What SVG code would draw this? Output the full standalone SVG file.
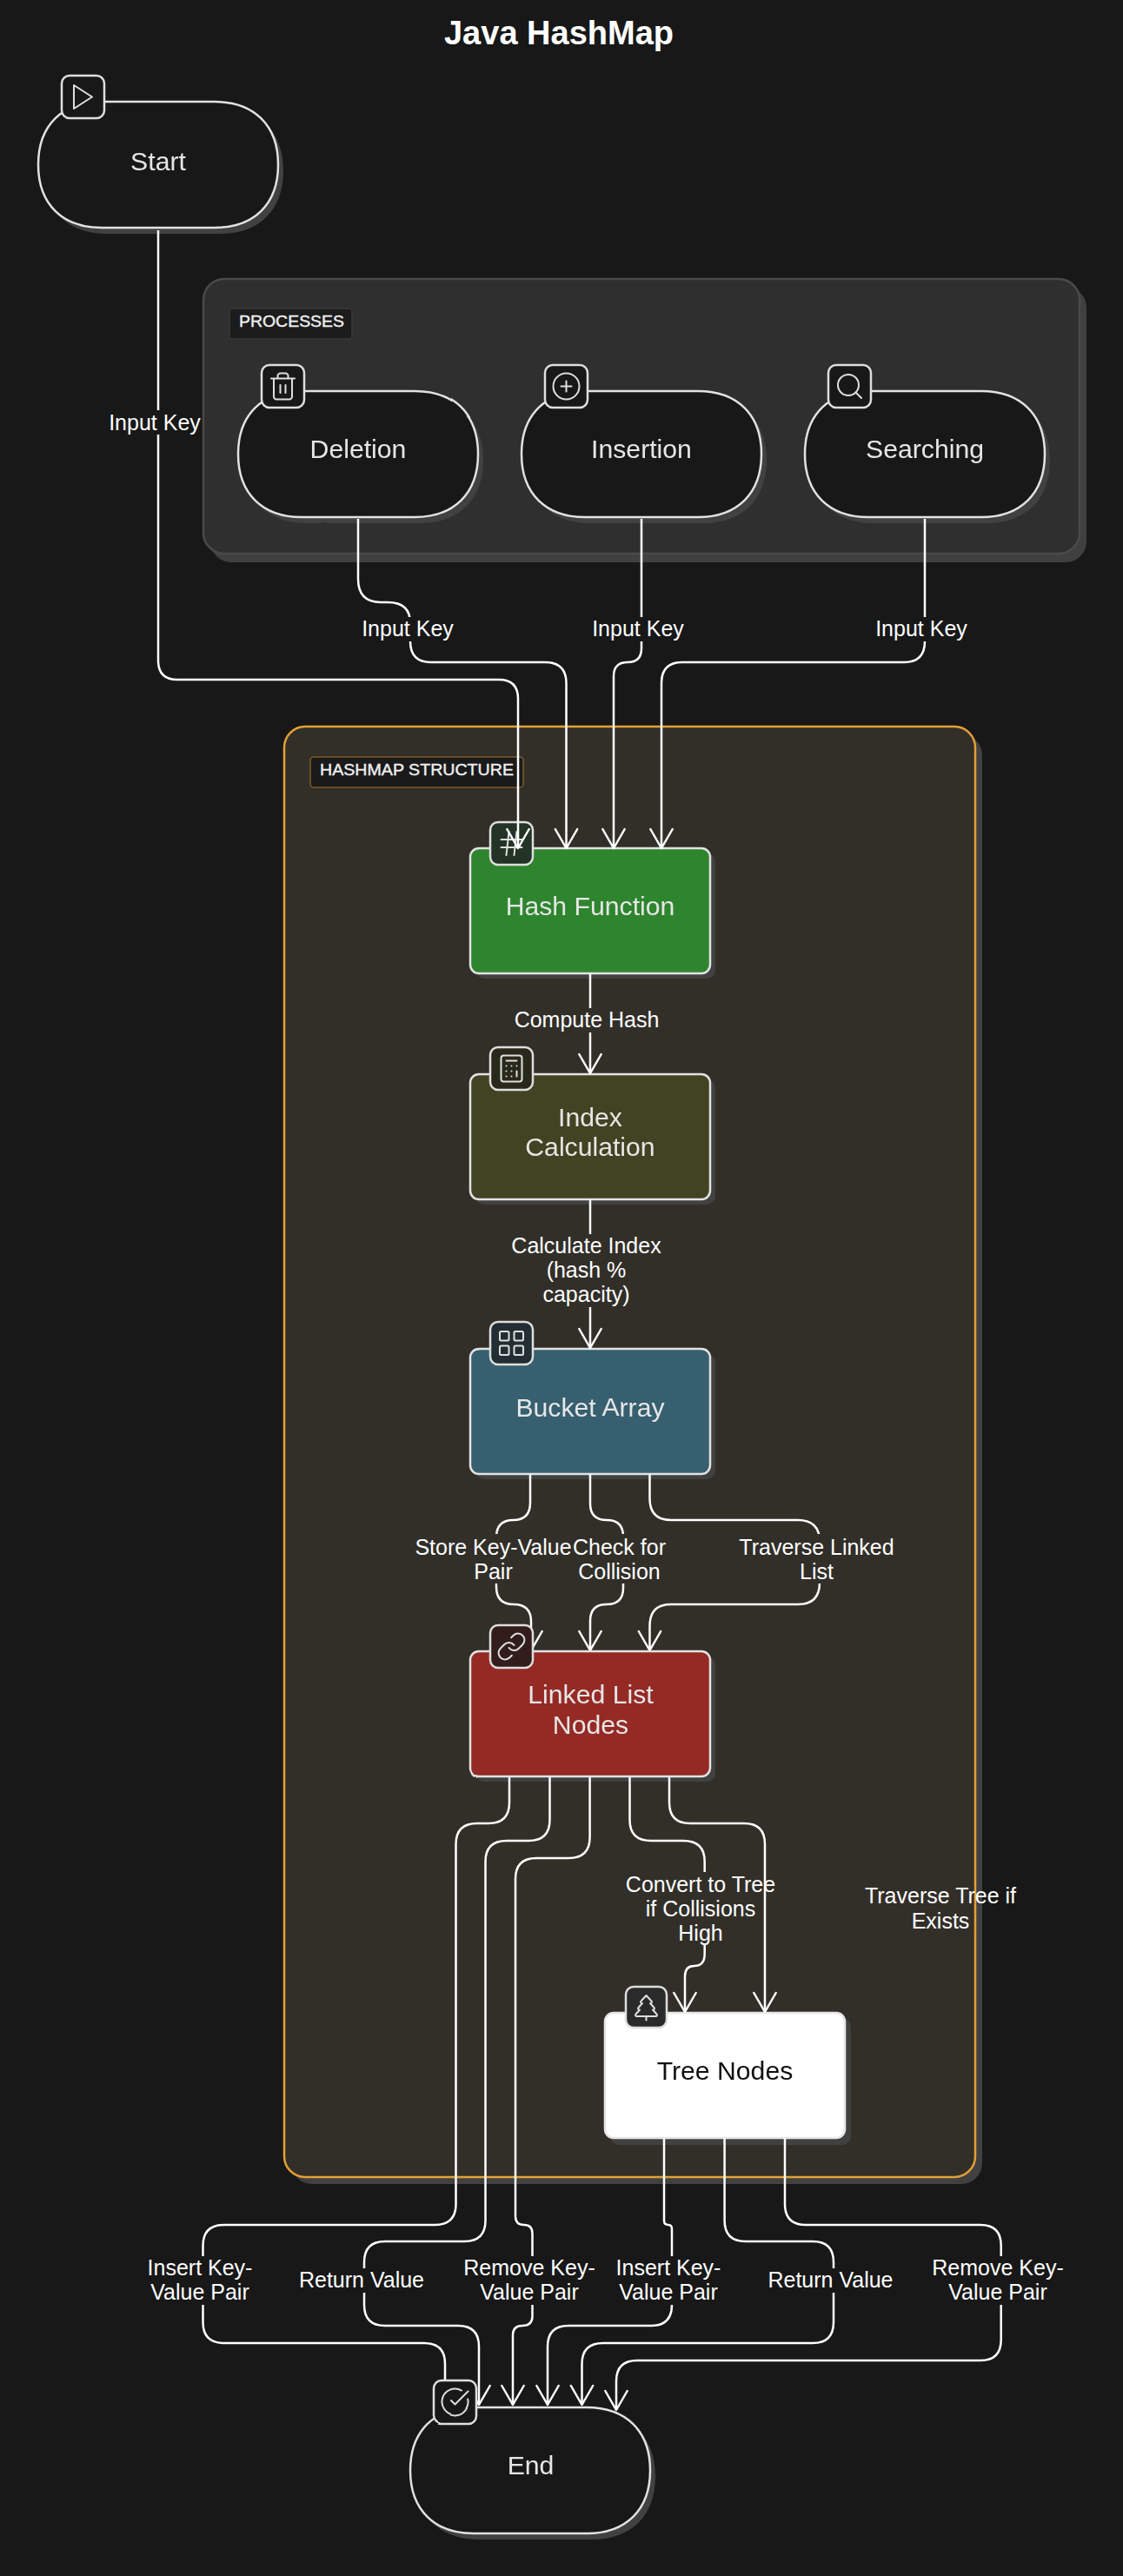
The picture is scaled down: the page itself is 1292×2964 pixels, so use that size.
<svg xmlns="http://www.w3.org/2000/svg" width="1292" height="2964" viewBox="0 0 1292 2964">
<style>
text{font-family:"Liberation Sans",Arial,sans-serif;text-anchor:middle}
.title{font-size:38px;font-weight:700;fill:#fff}
.nt{font-size:30.2px;fill:#e6e6e6}
.el{font-size:25px;fill:#fff}
.ct{font-size:19px;fill:#f0f0f0;stroke:#f0f0f0;stroke-width:.4}
.sh{fill:#414141}
.pill{fill:#181818;stroke:#e2e2e2;stroke-width:2.5}
.box{stroke:#e2e2e2;stroke-width:2.5}
.ic{stroke:#dedede;stroke-width:2.5}
.g{fill:none;stroke:#dedede;stroke-width:1.35;stroke-linecap:round;stroke-linejoin:round}
.e{fill:none;stroke:#fff;stroke-width:2.5;marker-end:url(#arr)}
.bo{fill:#181818}
.bi{fill:#322f29}
.r{filter:url(#rough)}
</style>
<defs>
<marker id="arr" markerUnits="userSpaceOnUse" viewBox="-25 -15 28 30" refX="0" refY="0" markerWidth="28" markerHeight="30" orient="auto" overflow="visible">
<polyline points="-22,-12.7 0,0 -22,12.7" fill="none" stroke="#fff" stroke-width="2.5" stroke-linejoin="round" stroke-linecap="round"/>
</marker>
<filter id="rough" x="-3%" y="-3%" width="106%" height="106%" color-interpolation-filters="sRGB">
<feTurbulence type="fractalNoise" baseFrequency="0.012" numOctaves="1" seed="4" result="t"/>
<feDisplacementMap in="SourceGraphic" in2="t" scale="2" xChannelSelector="R" yChannelSelector="G"/>
</filter>
<path id="p" d="M73 0H203C248 0 276 27 276 72.5S248 145 203 145H73C28 145 0 118 0 72.5S28 0 73 0Z"/>
</defs>
<rect width="1292" height="2964" fill="#181818"/>
<text class="title" x="643" y="51">Java HashMap</text>

<g id="processes">
<rect x="242" y="330" width="1008" height="317" rx="24" fill="#404040"/>
<rect x="234" y="321" width="1008" height="316" rx="24" fill="#2f2f2f" stroke="#4a4a4a" stroke-width="2.5"/>
<rect x="264" y="355" width="141" height="35" rx="4" fill="#1c1c1c" stroke="#383838" stroke-width="1.5"/>
<text class="ct" x="335.5" y="376" textLength="121" lengthAdjust="spacingAndGlyphs">PROCESSES</text>
</g>
<g id="hashmap-structure">
<rect x="335" y="845" width="795" height="1668" rx="24" fill="#414141"/>
<rect x="327" y="836" width="795" height="1669" rx="24" fill="#322f29" stroke="#e5a035" stroke-width="2.5"/>
<rect x="357" y="871" width="245" height="35" rx="4" fill="#1a1a1a" stroke="#7c5c28" stroke-width="1.5"/>
<text class="ct" x="479.5" y="892" textLength="223" lengthAdjust="spacingAndGlyphs">HASHMAP STRUCTURE</text>
</g>

<g id="start" class="r">
<use href="#p" class="sh" x="50" y="124"/>
<use href="#p" class="pill" x="44" y="117"/>
<text class="nt" x="182" y="196">Start</text>
<rect class="ic" x="71" y="87" width="49" height="49" rx="9" fill="#181818"/>
<g transform="translate(77.5 93.5) scale(1.5)"><polygon class="g" points="5,3 19,12 5,21"/></g>
</g>
<g id="deletion" class="r">
<use href="#p" class="sh" x="280" y="457"/>
<use href="#p" class="pill" x="274" y="450"/>
<text class="nt" x="412" y="527">Deletion</text>
<rect class="ic" x="301" y="420" width="49" height="49" rx="9" fill="#181818"/>
<g transform="translate(307.5 426.5) scale(1.5)"><path class="g" d="M3 6h18M19 6v14c0 1-1 2-2 2H7c-1 0-2-1-2-2V6M8 6V4c0-1 1-2 2-2h4c1 0 2 1 2 2v2M10 11v6M14 11v6"/></g>
</g>
<g id="insertion" class="r">
<use href="#p" class="sh" x="606" y="457"/>
<use href="#p" class="pill" x="600" y="450"/>
<text class="nt" x="738" y="527">Insertion</text>
<rect class="ic" x="627" y="420" width="49" height="49" rx="9" fill="#181818"/>
<g transform="translate(633.5 426.5) scale(1.5)"><circle class="g" cx="12" cy="12" r="10"/><path class="g" d="M8 12h8M12 8v8"/></g>
</g>
<g id="searching" class="r">
<use href="#p" class="sh" x="932" y="457"/>
<use href="#p" class="pill" x="926" y="450"/>
<text class="nt" x="1064" y="527">Searching</text>
<rect class="ic" x="953" y="420" width="49" height="49" rx="9" fill="#181818"/>
<g transform="translate(959.5 426.5) scale(1.5)"><circle class="g" cx="11" cy="11" r="8"/><path class="g" d="M21 21l-4.3-4.3"/></g>
</g>
<g id="hash-function" class="r">
<rect class="sh" x="547" y="982" width="276" height="144" rx="10"/>
<rect class="box" x="541" y="976" width="276" height="144" rx="10" fill="#2e852e"/>
<text class="nt" x="679" y="1053">Hash Function</text>
<rect class="ic" x="564" y="946" width="49" height="49" rx="9" fill="#233326"/>
<g transform="translate(570.5 952.5) scale(1.5)"><path class="g" d="M4 9h16M4 15h16M10 3L8 21M16 3l-2 18"/></g>
</g>
<g id="index-calculation" class="r">
<rect class="sh" x="547" y="1242" width="276" height="144" rx="10"/>
<rect class="box" x="541" y="1236" width="276" height="144" rx="10" fill="#424322"/>
<text class="nt" x="679" y="1296">Index</text>
<text class="nt" x="679" y="1330">Calculation</text>
<rect class="ic" x="564" y="1205" width="49" height="49" rx="9" fill="#28291b"/>
<g transform="translate(570.5 1211.5) scale(1.5)"><rect class="g" x="4" y="2" width="16" height="20" rx="2"/><path class="g" d="M8 6h8M16 14v4M16 10h.01M12 10h.01M8 10h.01M12 14h.01M8 14h.01M12 18h.01M8 18h.01"/></g>
</g>
<g id="bucket-array" class="r">
<rect class="sh" x="547" y="1558" width="276" height="144" rx="10"/>
<rect class="box" x="541" y="1552" width="276" height="144" rx="10" fill="#365f6f"/>
<text class="nt" x="679" y="1630">Bucket Array</text>
<rect class="ic" x="564" y="1521" width="49" height="49" rx="9" fill="#222e33"/>
<g transform="translate(570.5 1527.5) scale(1.5)"><rect class="g" x="3" y="3" width="7" height="7" rx="1"/><rect class="g" x="14" y="3" width="7" height="7" rx="1"/><rect class="g" x="14" y="14" width="7" height="7" rx="1"/><rect class="g" x="3" y="14" width="7" height="7" rx="1"/></g>
</g>
<g id="tree-nodes" class="r">
<rect class="sh" x="702" y="2322" width="277" height="146" rx="10"/>
<rect class="box" x="696" y="2316" width="276" height="144" rx="10" fill="#fff" style="stroke:#e6e6e6"/>
<text class="nt" x="834" y="2393" style="fill:#111">Tree Nodes</text>
<rect class="ic" x="720" y="2286" width="47" height="47" rx="9" fill="#2a2a2a"/>
<g transform="translate(725.5 2291.5) scale(1.5)"><path class="g" d="M17 14l3 3.3a1 1 0 0 1-.7 1.7H4.7a1 1 0 0 1-.7-1.7L7 14h-.3a1 1 0 0 1-.7-1.7L9 9h-.2A1 1 0 0 1 8 7.3L12 3l4 4.3a1 1 0 0 1-.8 1.7H15l3 3.3a1 1 0 0 1-.7 1.7H17ZM12 22v-3"/></g>
</g>
<rect id="linked-list-shadow" class="sh" x="547" y="1906" width="276" height="144" rx="10"/>

<g id="connectors">
<path class="e" d="M182 265V760Q182 782 204 782H574Q596 782 596 804V976"/>
<rect class="bo" x="126" y="472" width="104" height="28"/>
<text class="el" x="178" y="494.5">Input Key</text>

<path class="e" d="M412 597V666Q412 693 438 693H446Q472 693 472 717V738Q472 762 496 762H627Q651.5 762 651.5 786V976"/>
<rect class="bo" x="417" y="710" width="104" height="28"/>
<text class="el" x="469" y="732">Input Key</text>

<path class="e" d="M738 597V746Q738 762 722 762Q706 762 706 778V976"/>
<rect class="bo" x="682" y="710" width="104" height="28"/>
<text class="el" x="734" y="732">Input Key</text>

<path class="e" d="M1064 597V738Q1064 762 1040 762H785Q761 762 761 786V976"/>
<rect class="bo" x="1008" y="710" width="104" height="28"/>
<text class="el" x="1060" y="732">Input Key</text>

<path class="e" d="M679 1120V1235"/>
<rect class="bi" x="591" y="1160" width="168" height="28"/>
<text class="el" x="675" y="1182">Compute Hash</text>

<path class="e" d="M679 1380V1551"/>
<rect class="bi" x="587" y="1420" width="174" height="84"/>
<text class="el" x="674.5" y="1442">Calculate Index</text>
<text class="el" x="674.5" y="1470">(hash %</text>
<text class="el" x="674.5" y="1497.5">capacity)</text>

<path class="e" d="M610 1696V1729Q610 1749 590.5 1749Q571 1749 571 1769V1826Q571 1846 591 1846Q611 1846 611 1866V1899"/>
<rect class="bi" x="478" y="1765" width="179" height="57"/>
<text class="el" x="567.5" y="1789">Store Key-Value</text>
<text class="el" x="567.5" y="1817">Pair</text>

<path class="e" d="M679 1696V1730Q679 1749 698 1749Q717 1749 717 1768V1827Q717 1846 698 1846Q679 1846 679 1865V1899"/>
<rect class="bi" x="659" y="1765" width="108" height="57"/>
<text class="el" x="712.5" y="1789">Check for</text>
<text class="el" x="712.5" y="1817">Collision</text>

<path class="e" d="M747.5 1696V1724Q747.5 1749 772 1749H918Q943 1749 943 1774V1821Q943 1846 918 1846H772Q747.5 1846 747.5 1871V1899"/>
<rect class="bi" x="851" y="1765" width="177" height="57"/>
<text class="el" x="939.5" y="1789">Traverse Linked</text>
<text class="el" x="939.5" y="1817">List</text>

<path class="e" d="M586 2044V2074Q586 2098 562 2098H549Q524.5 2098 524.5 2122V2536Q524.5 2560 500 2560H258Q233.5 2560 233.5 2584V2672Q233.5 2696 258 2696H488Q512 2696 512 2720V2768"/>
<rect class="bo" x="170" y="2596" width="120" height="56"/>
<text class="el" x="230" y="2618">Insert Key-</text>
<text class="el" x="230" y="2646">Value Pair</text>

<path class="e" d="M632.5 2044V2094Q632.5 2118 608 2118H583Q558.5 2118 558.5 2142V2555Q558.5 2579 534 2579H443Q419 2579 419 2603V2652Q419 2676 443 2676H527Q551 2676 551 2700V2767"/>
<rect class="bo" x="344" y="2610" width="144" height="28"/>
<text class="el" x="416" y="2632">Return Value</text>

<path class="e" d="M678.6 2044V2114Q678.6 2138 654 2138H617Q593 2138 593 2162V2550Q593 2560 603 2560Q612.5 2560 612.5 2570V2665Q612.5 2676 601 2676Q590 2676 590 2687V2767"/>
<rect class="bo" x="535" y="2596" width="148" height="56"/>
<text class="el" x="609" y="2618">Remove Key-</text>
<text class="el" x="609" y="2646">Value Pair</text>

<path class="e" d="M724.5 2044V2094Q724.5 2118 749 2118H786Q810.7 2118 810.7 2142V2248Q810.7 2262 799 2262Q788 2262 788 2274V2315"/>
<rect class="bi" x="720" y="2154" width="172" height="84"/>
<text class="el" x="806" y="2177">Convert to Tree</text>
<text class="el" x="806" y="2205">if Collisions</text>
<text class="el" x="806" y="2233">High</text>

<path class="e" d="M770 2044V2074Q770 2098 794 2098H856Q880 2098 880 2122V2315"/>
<text class="el" x="1082" y="2190">Traverse Tree if</text>
<text class="el" x="1082" y="2218.5">Exists</text>

<path class="e" d="M764 2460V2555Q764 2560 769 2560Q773 2560 773 2565V2652Q773 2676 749 2676H654Q630 2676 630 2700V2767"/>
<rect class="bo" x="709" y="2596" width="120" height="56"/>
<text class="el" x="769" y="2618">Insert Key-</text>
<text class="el" x="769" y="2646">Value Pair</text>

<path class="e" d="M833.6 2460V2555Q833.6 2579 858 2579H935Q959 2579 959 2603V2672Q959 2696 935 2696H694Q669.5 2696 669.5 2720V2767"/>
<rect class="bo" x="884" y="2610" width="144" height="28"/>
<text class="el" x="955.5" y="2632">Return Value</text>

<path class="e" d="M903 2460V2536Q903 2560 927 2560H1128Q1151.7 2560 1151.7 2584V2692Q1151.7 2716 1128 2716H733Q709 2716 709 2740V2773"/>
<rect class="bo" x="1073" y="2596" width="150" height="56"/>
<text class="el" x="1148" y="2618">Remove Key-</text>
<text class="el" x="1148" y="2646">Value Pair</text>
</g>

<g id="linked-list-nodes" class="r">
<rect class="box" x="541" y="1900" width="276" height="144" rx="10" fill="#952a25"/>
<text class="nt" x="679.5" y="1960">Linked List</text>
<text class="nt" x="679.5" y="1995">Nodes</text>
<rect class="ic" x="564" y="1870" width="49" height="49" rx="9" fill="#321c1c"/>
<g transform="translate(570.5 1876.5) scale(1.5)"><path class="g" d="M10 13a5 5 0 0 0 7.54.54l3-3a5 5 0 0 0-7.07-7.07l-1.72 1.71M14 11a5 5 0 0 0-7.54-.54l-3 3a5 5 0 0 0 7.07 7.07l1.71-1.71"/></g>
</g>
<g id="end" class="r">
<use href="#p" class="sh" x="478" y="2777"/>
<use href="#p" class="pill" x="472" y="2770"/>
<text class="nt" x="610.5" y="2847">End</text>
<rect class="ic" x="499" y="2739" width="49" height="49" rx="9" fill="#181818"/>
<g transform="translate(505.5 2745.5) scale(1.5)"><path class="g" d="M21.801 10A10 10 0 1 1 17 3.335M9 11l3 3L22 4"/></g>
</g>
</svg>
